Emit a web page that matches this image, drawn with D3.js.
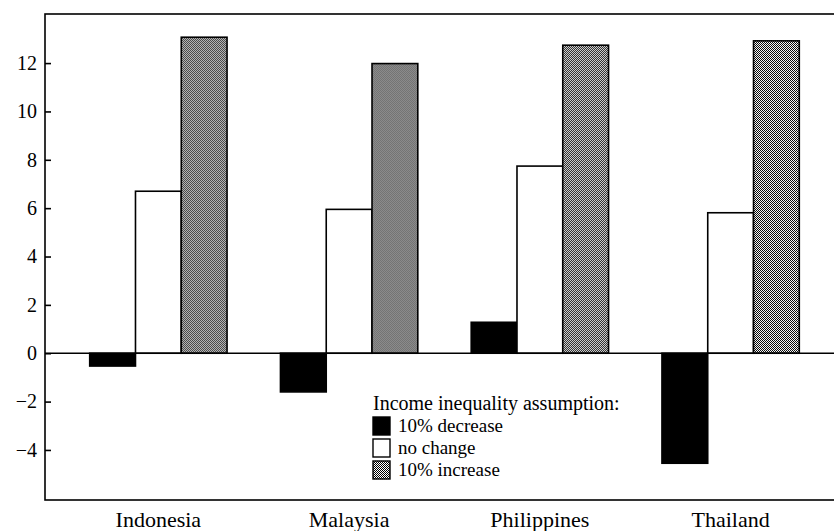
<!DOCTYPE html>
<html>
<head>
<meta charset="utf-8">
<script src="https://cdn.jsdelivr.net/npm/d3@7"></script>
<style>
  body { margin: 0; background: #fff; }
  text { font-family: "Liberation Serif", "DejaVu Serif", serif; fill: #000; }
</style>
</head>
<body>
<div id="chart-area"></div>
<script>
// data
var countries = ["Indonesia", "Malaysia", "Philippines", "Thailand"];
var series = ["10% decrease", "no change", "10% increase"];
var decrease = [-0.53, -1.6, 1.28, -4.55];
var noChange = [6.7, 5.95, 7.74, 5.81];
var increase = [13.07, 11.98, 12.74, 12.92];
var yTicks = [-4, -2, 0, 2, 4, 6, 8, 10, 12];
var legendTitle = "Income inequality assumption:";

var W = 834, H = 531;
var margin = { left: 45, top: 14, bottom: 500 };

var svg = d3.select("#chart-area")
    .append("svg")
    .attr("width", W)
    .attr("height", H);

// halftone grey like the print
var defs = svg.append("defs");
var pat = defs.append("pattern")
    .attr("id", "halftone")
    .attr("width", 2)
    .attr("height", 2)
    .attr("patternUnits", "userSpaceOnUse");
pat.append("rect").attr("width", 2).attr("height", 2).attr("fill", "#fff");
pat.append("rect").attr("width", 1).attr("height", 1).attr("fill", "#000");
pat.append("rect").attr("x", 1).attr("y", 1).attr("width", 1).attr("height", 1).attr("fill", "#000");

var fills = ["#000", "#fff", "url(#halftone)"];

var rows = countries.map(function(c, i) {
    return { country: c, values: [decrease[i], noChange[i], increase[i]] };
});

// scales
var y = d3.scaleLinear()
    .domain([-6.07, 14.03])
    .range([margin.bottom, margin.top]);

var x0 = d3.scaleBand()
    .domain(countries)
    .range([63, 826])
    .paddingInner(0.28)
    .paddingOuter(0.14);

var x1 = d3.scaleBand()
    .domain(d3.range(series.length))
    .range([0, x0.bandwidth()]);

// frame (right side runs off the page)
svg.append("rect")
    .attr("x", margin.left)
    .attr("y", margin.top)
    .attr("width", W + 10 - margin.left)
    .attr("height", margin.bottom - margin.top)
    .attr("fill", "none")
    .attr("stroke", "#000")
    .attr("stroke-width", 1.6);

// bars
var groups = svg.selectAll("g.country")
    .data(rows)
    .enter()
    .append("g")
    .attr("class", "country")
    .attr("transform", function(d) { return "translate(" + x0(d.country) + ",0)"; });

groups.selectAll("rect")
    .data(function(d) { return d.values.map(function(v, j) { return { v: v, j: j }; }); })
    .enter()
    .append("rect")
    .attr("x", function(d) { return x1(d.j); })
    .attr("width", x1.bandwidth())
    .attr("y", function(d) { return y(Math.max(0, d.v)); })
    .attr("height", function(d) { return Math.abs(y(d.v) - y(0)); })
    .attr("fill", function(d) { return fills[d.j]; })
    .attr("stroke", "#000")
    .attr("stroke-width", 1.6);

// zero line
svg.append("line")
    .attr("x1", margin.left)
    .attr("x2", W)
    .attr("y1", y(0))
    .attr("y2", y(0))
    .attr("stroke", "#000")
    .attr("stroke-width", 1.6);

// y axis
var yAxis = svg.append("g")
    .attr("transform", "translate(" + margin.left + ",0)")
    .call(d3.axisLeft(y)
        .tickValues(yTicks)
        .tickSizeInner(-6)
        .tickSizeOuter(0)
        .tickPadding(8)
        .tickFormat(function(d) { return d < 0 ? "\u2212" + Math.abs(d) : d; }));
yAxis.select(".domain").remove();
yAxis.selectAll("line").attr("stroke", "#000").attr("stroke-width", 1.6);
yAxis.selectAll("text")
    .attr("font-family", "Liberation Serif, serif")
    .attr("font-size", "20px");

// x labels
svg.selectAll("text.xlab")
    .data(countries)
    .enter()
    .append("text")
    .attr("class", "xlab")
    .attr("x", function(d) { return x0(d) + x0.bandwidth() / 2; })
    .attr("y", 527)
    .attr("text-anchor", "middle")
    .attr("font-size", "22px")
    .text(function(d) { return d; });

// legend
var lg = svg.append("g").attr("transform", "translate(373,0)");
lg.append("text")
    .attr("x", 0)
    .attr("y", 410)
    .attr("font-size", "20px")
    .text(legendTitle);

var items = lg.selectAll("g.item")
    .data(series)
    .enter()
    .append("g")
    .attr("class", "item")
    .attr("transform", function(d, i) { return "translate(0," + (417 + i * 22) + ")"; });

items.append("rect")
    .attr("width", 17)
    .attr("height", 18)
    .attr("fill", function(d, i) { return fills[i]; })
    .attr("stroke", "#000")
    .attr("stroke-width", 1.4);

items.append("text")
    .attr("x", 25)
    .attr("y", 15)
    .attr("font-size", "19px")
    .text(function(d) { return d; });
</script>
</body>
</html>
